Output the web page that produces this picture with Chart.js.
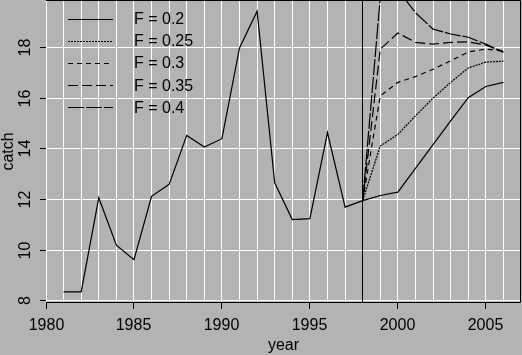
<!DOCTYPE html>
<html>
<head>
<meta charset="utf-8">
<script src="https://cdn.jsdelivr.net/npm/chart.js@4.4.1/dist/chart.umd.min.js"></script>
<style>
  html, body { margin: 0; padding: 0; background: #b3b3b3; }
  canvas { display: block; }
</style>
</head>
<body>
<canvas id="catchChart" width="522" height="355"></canvas>
<script>
// historic catch
const histYears = [1981, 1982, 1983, 1984, 1985, 1986, 1987, 1988, 1989, 1990,
                   1991, 1992, 1993, 1994, 1995, 1996, 1997, 1998];
const histCatch = [8.36, 8.36, 12.07, 10.2, 9.63, 12.13, 12.6, 14.53, 14.07, 14.4,
                   17.98, 19.43, 12.66, 11.21, 11.25, 14.64, 11.7, 11.96];

// projections under different F
const projYears = [1998, 1999, 2000, 2001, 2002, 2003, 2004, 2005, 2006];
const f020 = [11.96, 12.16, 12.29, 13.23, 14.17, 15.1, 16.02, 16.46, 16.62];
const f025 = [11.96, 14.11, 14.57, 15.3, 16.0, 16.62, 17.19, 17.42, 17.46];
const f030 = [11.96, 16.09, 16.62, 16.85, 17.14, 17.47, 17.82, 17.93, 17.86];
const f035 = [11.96, 17.93, 18.57, 18.2, 18.13, 18.2, 18.22, 18.09, 17.84];
const f040 = [11.96, 19.95, 20.27, 19.37, 18.72, 18.53, 18.4, 18.13, 17.8];

const fLabels = ['F = 0.2', 'F = 0.25', 'F = 0.3', 'F = 0.35', 'F = 0.4'];
const fSeries = [f020, f025, f030, f035, f040];
const fDashes = [[], [2, 1], [5, 4], [10, 4], [16, 2]];

const xTickLabels = [1980, 1985, 1990, 1995, 2000, 2005];
const yTickLabels = [8, 10, 12, 14, 16, 18];
const gridYears = [];
for (let y = 1980; y <= 2006; y++) gridYears.push(y);
const splitYear = 1998;

const FONT = '16px "Liberation Sans", Arial, sans-serif';

const toXY = (xs, ys) => xs.map((x, i) => ({ x: x, y: ys[i] }));

const datasets = [{
    label: 'catch',
    data: toXY(histYears, histCatch),
    borderColor: '#000',
    borderWidth: 1.2,
}];
fSeries.forEach((s, i) => {
    datasets.push({
        label: fLabels[i],
        data: toXY(projYears, s),
        borderColor: '#000',
        borderWidth: 1.2,
        borderDash: fDashes[i],
    });
});

// axes, box, legend drawn by hand in R style
const framePlugin = {
    id: 'frame',
    afterDatasetsDraw(chart) {
        const ctx = chart.ctx;
        const a = chart.chartArea;
        const xs = chart.scales.x;
        const ys = chart.scales.y;
        ctx.save();
        ctx.strokeStyle = '#000';
        ctx.lineWidth = 1;

        // box (left side stays white from the 1980 grid line)
        ctx.beginPath();
        ctx.moveTo(a.left, a.top + 0.5);
        ctx.lineTo(a.right - 0.5, a.top + 0.5);
        ctx.lineTo(a.right - 0.5, a.bottom - 0.5);
        ctx.lineTo(a.left, a.bottom - 0.5);
        ctx.stroke();

        // split line
        const sx = Math.floor(xs.getPixelForValue(splitYear)) + 0.5;
        ctx.beginPath();
        ctx.moveTo(sx, a.top);
        ctx.lineTo(sx, a.bottom);
        ctx.stroke();

        ctx.fillStyle = '#000';
        ctx.font = FONT;

        // x ticks
        ctx.textAlign = 'center';
        ctx.textBaseline = 'middle';
        xTickLabels.forEach(v => {
            const px = Math.floor(xs.getPixelForValue(v)) + 0.5;
            ctx.beginPath();
            ctx.moveTo(px, a.bottom);
            ctx.lineTo(px, a.bottom + 6);
            ctx.stroke();
            ctx.fillText(String(v), px, a.bottom + 23);
        });

        // y ticks
        yTickLabels.forEach(v => {
            const py = Math.floor(ys.getPixelForValue(v)) + 0.5;
            ctx.beginPath();
            ctx.moveTo(a.left - 6, py);
            ctx.lineTo(a.left, py);
            ctx.stroke();
            ctx.save();
            ctx.translate(26, py);
            ctx.rotate(-Math.PI / 2);
            ctx.fillText(String(v), 0, 0);
            ctx.restore();
        });

        // axis titles
        ctx.fillText('year', (a.left + a.right) / 2, a.bottom + 43);
        ctx.save();
        ctx.translate(9, (a.top + a.bottom) / 2);
        ctx.rotate(-Math.PI / 2);
        ctx.fillText('catch', 0, 0);
        ctx.restore();

        // legend
        ctx.textAlign = 'left';
        fLabels.forEach((lab, i) => {
            const ly = 18.5 + i * 22.2;
            ctx.save();
            ctx.lineWidth = 1.2;
            ctx.setLineDash(fDashes[i]);
            ctx.beginPath();
            ctx.moveTo(68, Math.round(ly) + 0.5);
            ctx.lineTo(113, Math.round(ly) + 0.5);
            ctx.stroke();
            ctx.restore();
            ctx.fillText(lab, 134, ly + 1);
        });
        ctx.restore();
    }
};

const ctxCatch = document.getElementById('catchChart').getContext('2d');
const catchChart = new Chart(ctxCatch, {
    type: 'line',
    data: { datasets: datasets },
    options: {
        responsive: false,
        animation: false,
        events: [],
        layout: { padding: { top: 0, right: 1, left: 0, bottom: 0 } },
        elements: {
            line: { tension: 0, fill: false },
            point: { radius: 0 },
        },
        scales: {
            x: {
                type: 'linear',
                min: 1980,
                max: 2007,
                afterBuildTicks: s => { s.ticks = gridYears.map(v => ({ value: v })); },
                afterFit: s => { s.height = 52; },
                ticks: { display: false },
                grid: { color: '#fff', lineWidth: 1, drawTicks: false },
                border: { display: false },
            },
            y: {
                min: 7.92,
                max: 19.87,
                afterBuildTicks: s => { s.ticks = yTickLabels.map(v => ({ value: v })); },
                afterFit: s => { s.width = 46; },
                ticks: { display: false },
                grid: { color: '#fff', lineWidth: 1, drawTicks: false },
                border: { display: false },
            },
        },
        plugins: {
            legend: { display: false },
            tooltip: { enabled: false },
        },
    },
    plugins: [framePlugin],
});
</script>
</body>
</html>
